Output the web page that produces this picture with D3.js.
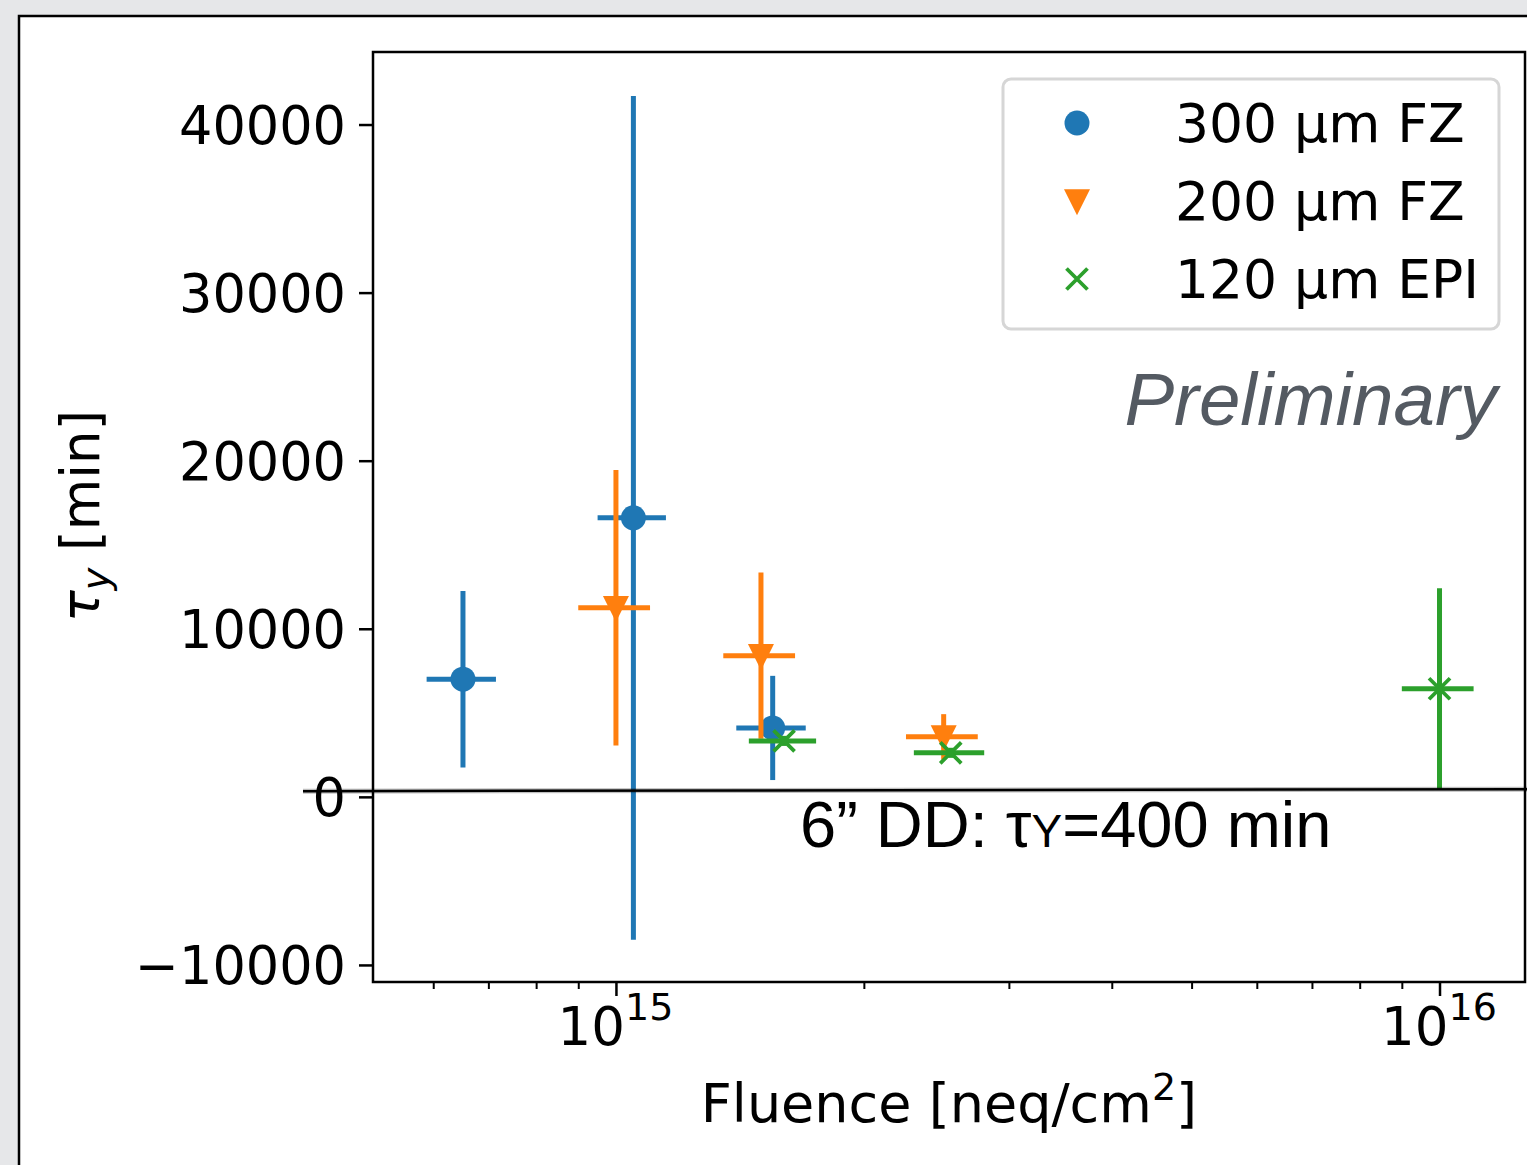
<!DOCTYPE html>
<html>
<head>
<meta charset="utf-8">
<script src="https://cdn.jsdelivr.net/npm/d3@7"></script>
<style>
  html, body { margin: 0; padding: 0; background: #e6e7e9; }
  svg { display: block; }
  .tick text, .lbl { font-family: "DejaVu Sans", sans-serif; fill: #000; }
</style>
</head>
<body>
<svg id="chart" width="1527" height="1165"></svg>
<script>
// Fluence [neq/cm^2], tau_y [min] and their uncertainties per sensor type
const seriesNames = ["300 µm FZ", "200 µm FZ", "120 µm EPI"];
const seriesColors = ["#1f77b4", "#ff7f0e", "#2ca02c"];
const seriesMarkers = ["circle", "triangle", "x"];

const fz300Fluence = [6.52e14, 1.05e15, 1.55e15];
const fz300FluenceErr = [0.63e14, 0.10e15, 0.15e15];
const fz300Tau = [7000, 16600, 4100];
const fz300TauErr = [5250, 25100, 3100];

const fz200Fluence = [1.0e15, 1.5e15, 2.5e15];
const fz200FluenceErr = [0.10e15, 0.15e15, 0.25e15];
const fz200Tau = [11250, 8400, 3570];
const fz200TauErr = [8200, 4950, 1350];

const epi120Fluence = [1.6e15, 2.55e15, 1.0e16];
const epi120FluenceErr = [0.15e15, 0.25e15, 0.10e16];
const epi120Tau = [3330, 2620, 6430];
const epi120TauErr = [300, 300, 5980];

const yTicks = [-10000, 0, 10000, 20000, 30000, 40000];
const xMajorTicks = [1e15, 1e16];
const xMajorExp = ["15", "16"];
const xMinorTicks = [6e14, 7e14, 8e14, 9e14, 2e15, 3e15, 4e15, 5e15, 6e15, 7e15, 8e15, 9e15];
const xDomain = [5.07e14, 1.27e16];
const yDomain = [-11015, 44315];

const referenceTau = 400; // 6" DD reference lifetime

const series = [
  { x: fz300Fluence, xe: fz300FluenceErr, y: fz300Tau, ye: fz300TauErr },
  { x: fz200Fluence, xe: fz200FluenceErr, y: fz200Tau, ye: fz200TauErr },
  { x: epi120Fluence, xe: epi120FluenceErr, y: epi120Tau, ye: epi120TauErr }
];

const FS = 53;

const svg = d3.select("#chart");

// page panel
svg.append("rect").attr("x", 19).attr("y", 16).attr("width", 1600).attr("height", 1300)
  .attr("fill", "#fff").attr("stroke", "#000").attr("stroke-width", 2.5);

const m = { left: 373, top: 52, right: 1525, bottom: 982 };
const x = d3.scaleLog().domain(xDomain).range([m.left, m.right]);
const y = d3.scaleLinear().domain(yDomain).range([m.bottom, m.top]);

const g = svg.append("g");

// y axis
const yAxis = g.append("g").attr("transform", `translate(${m.left},0)`)
  .call(d3.axisLeft(y).tickValues(yTicks).tickSize(14).tickPadding(13)
    .tickFormat(d => d < 0 ? "\u2212" + Math.abs(d) : String(d)));
yAxis.select(".domain").remove();
yAxis.selectAll(".tick line").attr("stroke", "#000").attr("stroke-width", 2.5);
yAxis.selectAll(".tick text").attr("font-size", 52.5).attr("dy", "0.36em");

// x axis: minor ticks
const xMinor = g.append("g").attr("transform", `translate(0,${m.bottom})`)
  .call(d3.axisBottom(x).tickValues(xMinorTicks).tickSize(7).tickFormat(""));
xMinor.select(".domain").remove();
xMinor.selectAll(".tick line").attr("stroke", "#000").attr("stroke-width", 2);

// x axis: major ticks with power-of-ten labels
const xMajor = g.append("g").attr("transform", `translate(0,${m.bottom})`)
  .call(d3.axisBottom(x).tickValues(xMajorTicks).tickSize(14).tickFormat(""));
xMajor.select(".domain").remove();
xMajor.selectAll(".tick line").attr("stroke", "#000").attr("stroke-width", 2.5);
xMajor.selectAll(".tick").each(function (d, i) {
  const t = d3.select(this).append("text").attr("class", "lbl")
    .attr("y", 63).attr("text-anchor", "middle").attr("x", -1);
  t.append("tspan").attr("font-size", FS).text("10");
  t.append("tspan").attr("font-size", 38).attr("dy", -25).text(xMajorExp[i]);
});

// markers
function triDown(cx, cy, s) {
  const h = s * 0.5;
  return `M${cx - h},${cy - h * 0.9}L${cx + h},${cy - h * 0.9}L${cx},${cy + h * 1.1}Z`;
}
function drawMarker(sel, type, color, cx, cy) {
  if (type === "circle") {
    sel.append("circle").attr("cx", cx).attr("cy", cy).attr("r", 12.5).attr("fill", color);
  } else if (type === "triangle") {
    sel.append("path").attr("d", triDown(cx, cy, 26)).attr("fill", color);
  } else {
    const h = 10.5;
    sel.append("path")
      .attr("d", `M${cx - h},${cy - h}L${cx + h},${cy + h}M${cx - h},${cy + h}L${cx + h},${cy - h}`)
      .attr("stroke", color).attr("stroke-width", 3.8).attr("fill", "none");
  }
}

// error bars and markers
const plot = g.append("g");
series.forEach((s, si) => {
  const color = seriesColors[si];
  const sg = plot.append("g");
  s.x.forEach((xv, i) => {
    sg.append("line")
      .attr("x1", x(xv - s.xe[i])).attr("x2", x(xv + s.xe[i]))
      .attr("y1", y(s.y[i])).attr("y2", y(s.y[i]))
      .attr("stroke", color).attr("stroke-width", 5);
    sg.append("line")
      .attr("x1", x(xv)).attr("x2", x(xv))
      .attr("y1", y(s.y[i] - s.ye[i])).attr("y2", y(s.y[i] + s.ye[i]))
      .attr("stroke", color).attr("stroke-width", 5);
  });
  s.x.forEach((xv, i) => drawMarker(sg, seriesMarkers[si], color, x(xv), y(s.y[i])));
});

// axes frame
g.append("rect").attr("x", m.left).attr("y", m.top)
  .attr("width", m.right - m.left).attr("height", m.bottom - m.top)
  .attr("fill", "none").attr("stroke", "#000").attr("stroke-width", 2.5);

// legend
const lg = g.append("g");
lg.append("rect").attr("x", 1003).attr("y", 79).attr("width", 496).attr("height", 250)
  .attr("rx", 8).attr("fill", "#fff").attr("fill-opacity", 0.8)
  .attr("stroke", "#d6d6d6").attr("stroke-width", 3);
seriesNames.forEach((name, i) => {
  const cy = 123 + i * 78;
  drawMarker(lg, seriesMarkers[i], seriesColors[i], 1077, cy);
  lg.append("text").attr("class", "lbl").attr("x", 1175).attr("y", cy)
    .attr("dy", "0.36em").attr("font-size", FS + 0.5).text(name);
});

// reference lifetime line, sketched across the panel
const yRef = y(referenceTau);
g.append("line").attr("x1", 303).attr("x2", 1527).attr("y1", yRef + 1).attr("y2", yRef - 1)
  .attr("stroke", "#000").attr("stroke-width", 5).attr("stroke-opacity", 0.25);
g.append("line").attr("x1", 303).attr("x2", 1527).attr("y1", yRef + 1).attr("y2", yRef - 1)
  .attr("stroke", "#000").attr("stroke-width", 2.5);

const dd = g.append("text").attr("x", 800).attr("y", 847)
  .attr("font-family", "Liberation Sans, Arial, sans-serif").attr("font-size", 65).attr("fill", "#000");
dd.append("tspan").text("6\u201D DD: \u03C4");
dd.append("tspan").attr("font-size", 46).text("Y");
dd.append("tspan").text("=400 min");

// preliminary tag
g.append("text").attr("x", 1497).attr("y", 425).attr("text-anchor", "end")
  .attr("font-family", "Liberation Sans, Arial, sans-serif").attr("font-style", "italic")
  .attr("font-size", 74.5).attr("fill", "#545a62").text("Preliminary");

// axis titles
const xt = g.append("text").attr("class", "lbl").attr("x", 949).attr("y", 1122)
  .attr("text-anchor", "middle").attr("font-size", FS + 1);
xt.append("tspan").text("Fluence [neq/cm");
xt.append("tspan").attr("font-size", 38).attr("dy", -22).text("2");
xt.append("tspan").attr("dy", 22).text("]");

const yt = g.append("text").attr("class", "lbl")
  .attr("transform", "translate(99,516) rotate(-90)")
  .attr("text-anchor", "middle").attr("font-size", FS);
yt.append("tspan").attr("font-style", "italic").text("\u03C4");
yt.append("tspan").attr("font-style", "italic").attr("font-size", 38).attr("dy", 10).text("y");
yt.append("tspan").attr("dy", -10).text(" [min]");
</script>
</body>
</html>
